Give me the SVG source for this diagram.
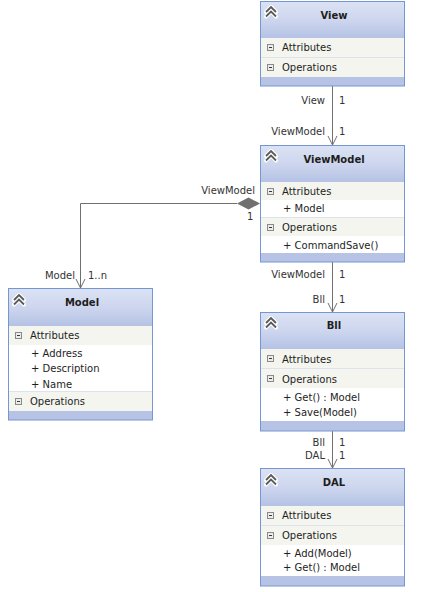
<svg xmlns="http://www.w3.org/2000/svg" xmlns:xlink="http://www.w3.org/1999/xlink" width="428" height="592" viewBox="0 0 428 592">
<defs>
<linearGradient id="hdr" x1="0" y1="0" x2="0" y2="1">
<stop offset="0" stop-color="#dbe2f4"/>
<stop offset="0.5" stop-color="#cdd6ee"/>
<stop offset="1" stop-color="#b5c2e5"/>
</linearGradient>
<g id="mi">
<rect x="0.5" y="0.5" width="6" height="6" fill="#ececec" stroke="#8a8a8a"/>
<line x1="2" y1="3.5" x2="5" y2="3.5" stroke="#3a3a3a"/>
</g>
<g id="chev">
<path d="M1,6 L6,1 L11,6 M1,10.5 L6,5.5 L11,10.5" fill="none" stroke="#ffffff" stroke-width="4" stroke-linejoin="round" stroke-linecap="round"/>
<path d="M1,6 L6,1 L11,6 M1,10.5 L6,5.5 L11,10.5" fill="none" stroke="#5a5a5a" stroke-width="1.8"/>
</g>
<marker id="open" markerWidth="12" markerHeight="12" refX="10" refY="5" orient="auto" markerUnits="userSpaceOnUse">
<path d="M1,0.5 L10,5 L1,9.5" fill="none" stroke="#707070" stroke-width="1"/>
</marker>
</defs>
<style>
text{font-family:"DejaVu Sans","Liberation Sans",sans-serif;font-size:10px;fill:#1e1e1e}
.t{font-weight:bold;text-anchor:middle}
.lb{fill:#333333}
.r{text-anchor:end}
.box{fill:#b7c3e4;stroke:#7497d3;stroke-width:1}
.hd{fill:url(#hdr)}
.cp{fill:#f3f5ee}
.it{fill:#ffffff}
.sp{stroke:#dde2ec;stroke-width:1}
.cn{fill:none;stroke:#707070;stroke-width:1}
</style>
<rect width="428" height="592" fill="#ffffff"/>

<g id="connectors">
<line class="cn" x1="332.5" y1="86" x2="332.5" y2="145" marker-end="url(#open)"/>
<line class="cn" x1="332.5" y1="262" x2="332.5" y2="312" marker-end="url(#open)"/>
<line class="cn" x1="332.5" y1="431" x2="332.5" y2="468" marker-end="url(#open)"/>
<path class="cn" d="M237,203.5 H80.5 V288" marker-end="url(#open)"/>
<polygon points="260,203.5 248.5,197.5 237,203.5 248.5,209.5" fill="#707070"/>
<text class="lb r" x="325" y="104">View</text>
<text class="lb" x="339" y="104">1</text>
<text class="lb r" x="325" y="135">ViewModel</text>
<text class="lb" x="339" y="135">1</text>
<text class="lb r" x="325" y="278">ViewModel</text>
<text class="lb" x="339" y="278">1</text>
<text class="lb r" x="325" y="303">Bll</text>
<text class="lb" x="339" y="303">1</text>
<text class="lb r" x="325" y="446">Bll</text>
<text class="lb" x="339" y="446">1</text>
<text class="lb r" x="325" y="459">DAL</text>
<text class="lb" x="339" y="459">1</text>
<text class="lb r" x="255" y="194">ViewModel</text>
<text class="lb" x="247" y="220">1</text>
<text class="lb r" x="75" y="279">Model</text>
<text class="lb" x="88" y="279">1..n</text>
</g>

<g id="View">
<rect class="box" x="260.5" y="1.5" width="144" height="84.5"/>
<rect class="hd" x="261" y="2" width="143" height="36"/>
<rect class="cp" x="261" y="38" width="143" height="19"/>
<line class="sp" x1="261" y1="57.5" x2="404" y2="57.5"/>
<rect class="cp" x="261" y="58" width="143" height="19"/>
<use xlink:href="#chev" x="265" y="6"/>
<text class="t" x="334" y="19">View</text>
<use xlink:href="#mi" x="267" y="44"/>
<text x="282" y="51">Attributes</text>
<use xlink:href="#mi" x="267" y="64"/>
<text x="282" y="71">Operations</text>
</g>

<g id="ViewModel">
<rect class="box" x="260.5" y="145.5" width="144" height="116.5"/>
<rect class="hd" x="261" y="146" width="143" height="36"/>
<rect class="cp" x="261" y="182" width="143" height="18"/>
<rect class="it" x="261" y="200" width="143" height="17"/>
<line class="sp" x1="261" y1="217.5" x2="404" y2="217.5"/>
<rect class="cp" x="261" y="218" width="143" height="18"/>
<rect class="it" x="261" y="236" width="143" height="17"/>
<use xlink:href="#chev" x="265" y="150"/>
<text class="t" x="334" y="162.5">ViewModel</text>
<use xlink:href="#mi" x="267" y="188"/>
<text x="282" y="194.5">Attributes</text>
<text x="283" y="212">+ Model</text>
<use xlink:href="#mi" x="267" y="224"/>
<text x="282" y="230.5">Operations</text>
<text x="283" y="248.5">+ CommandSave()</text>
</g>

<g id="Model">
<rect class="box" x="8.5" y="288.5" width="144" height="131.5"/>
<rect class="hd" x="9" y="289" width="143" height="37"/>
<rect class="cp" x="9" y="326" width="143" height="19"/>
<rect class="it" x="9" y="345" width="143" height="46"/>
<line class="sp" x1="9" y1="391.5" x2="152" y2="391.5"/>
<rect class="cp" x="9" y="392" width="143" height="19"/>
<use xlink:href="#chev" x="13" y="294"/>
<text class="t" x="82" y="305.5">Model</text>
<use xlink:href="#mi" x="15" y="332"/>
<text x="30" y="338.5">Attributes</text>
<text x="31" y="356.5">+ Address</text>
<text x="31" y="371.5">+ Description</text>
<text x="31" y="387.5">+ Name</text>
<use xlink:href="#mi" x="15" y="398"/>
<text x="30" y="404.5">Operations</text>
</g>

<g id="Bll">
<rect class="box" x="260.5" y="312.5" width="144" height="118.5"/>
<rect class="hd" x="261" y="313" width="143" height="36"/>
<rect class="cp" x="261" y="349" width="143" height="19"/>
<line class="sp" x1="261" y1="368.5" x2="404" y2="368.5"/>
<rect class="cp" x="261" y="369" width="143" height="19"/>
<rect class="it" x="261" y="388" width="143" height="33"/>
<use xlink:href="#chev" x="265" y="317"/>
<text class="t" x="334" y="328.5">Bll</text>
<use xlink:href="#mi" x="267" y="355"/>
<text x="282" y="362.5">Attributes</text>
<use xlink:href="#mi" x="267" y="375"/>
<text x="282" y="382.5">Operations</text>
<text x="283" y="400.5">+ Get() : Model</text>
<text x="283" y="416">+ Save(Model)</text>
</g>

<g id="DAL">
<rect class="box" x="260.5" y="468.5" width="144" height="117.5"/>
<rect class="hd" x="261" y="469" width="143" height="37"/>
<rect class="cp" x="261" y="506" width="143" height="19"/>
<line class="sp" x1="261" y1="525.5" x2="404" y2="525.5"/>
<rect class="cp" x="261" y="526" width="143" height="19"/>
<rect class="it" x="261" y="545" width="143" height="31"/>
<use xlink:href="#chev" x="265" y="474"/>
<text class="t" x="334" y="486">DAL</text>
<use xlink:href="#mi" x="267" y="512"/>
<text x="282" y="519">Attributes</text>
<use xlink:href="#mi" x="267" y="532"/>
<text x="282" y="539">Operations</text>
<text x="283" y="556.5">+ Add(Model)</text>
<text x="283" y="571">+ Get() : Model</text>
</g>
</svg>
